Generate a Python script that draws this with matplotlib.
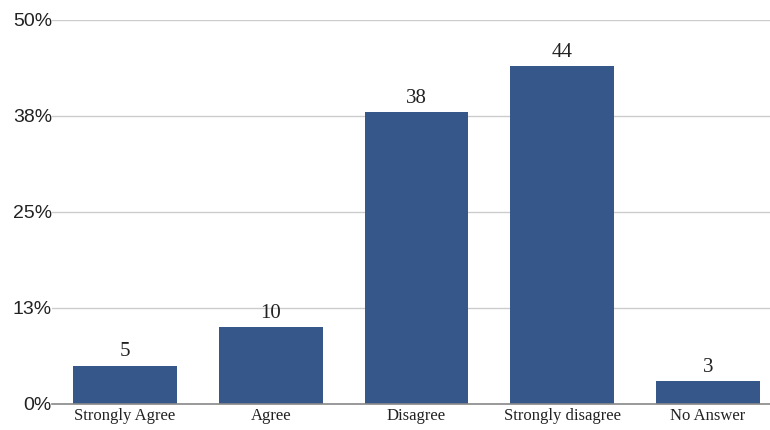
import numpy as np
from matplotlib import pyplot as plt

# reponses au sondage
categories = ["Strongly Agree", "Agree", "Disagree", "Strongly disagree", "No Answer"]
valeurs = [5, 10, 38, 44, 3]
ticks_y = [0, 12.5, 25, 37.5, 50]
labels_y = ["0%", "13%", "25%", "38%", "50%"]

couleur = "#36578a"

f = plt.figure(figsize=(7.7, 4.3), dpi=100)
ax = f.add_axes([52/770, 26/430, 1 - 52/770, 384/430])

x = np.arange(len(categories))
barres = ax.bar(x, valeurs, width=0.712, color=couleur, zorder=3)

for xi, v in zip(x, valeurs):
    ax.annotate(str(v), (xi, v), xytext=(0, 3), textcoords="offset points",
                ha="center", va="bottom", fontsize=15, family="Liberation Serif",
                color="#222222")

ax.set_xlim(-0.5, 4.425)
ax.set_ylim(0, 50)
ax.set_yticks(ticks_y)
ax.set_yticklabels(labels_y, family="Liberation Sans", fontsize=14, color="#222222")
ax.set_xticks(x)
ax.set_xticklabels(categories, family="Liberation Serif", fontsize=12, color="#222222")
ax.tick_params(axis="y", length=0, pad=0)
# un peu moins d'espace pour que les etiquettes ne soient pas coupees
ax.tick_params(axis="x", length=0, pad=3)

ax.grid(axis="y", color="#cccccc", linewidth=1, zorder=0)
for s in ["top", "right", "left"]:
    ax.spines[s].set_visible(False)
ax.spines["bottom"].set_color("#888888")
ax.spines["bottom"].set_linewidth(1.2)
ax.spines["bottom"].set_zorder(4)

f.savefig("out.png", dpi=100)
